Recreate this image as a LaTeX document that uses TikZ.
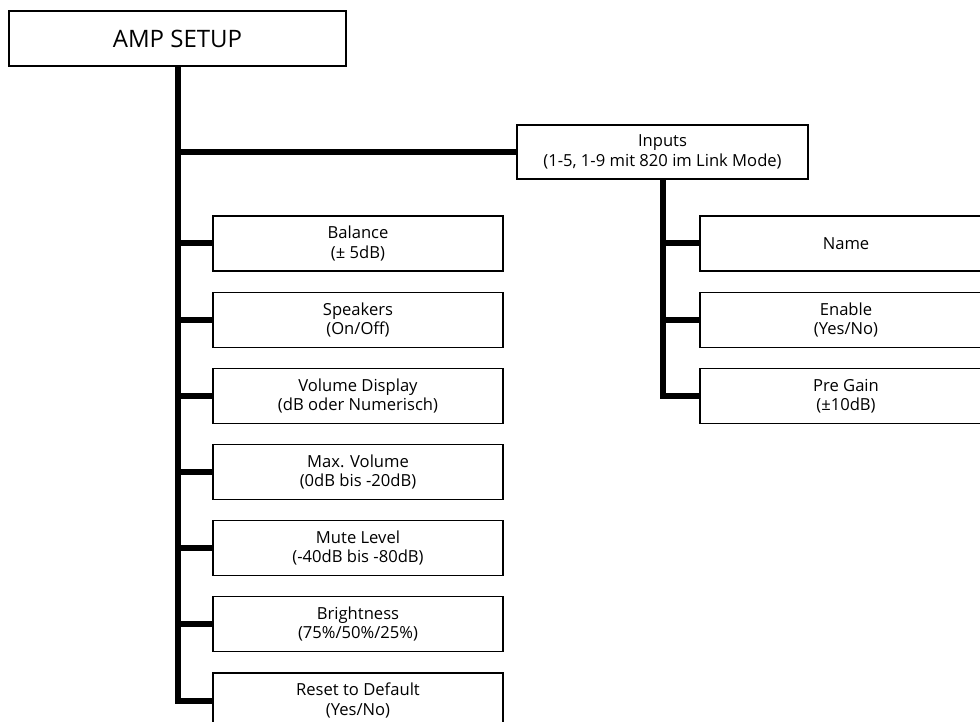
\documentclass[tikz,border=0pt]{standalone}
\usepackage{fontspec}
\setmainfont{Open Sans}
\begin{document}
\begin{tikzpicture}[x=1pt,y=-1pt,
  box/.style={draw=black,line width=1.4pt,fill=white,minimum width=290pt,minimum height=55pt,
    inner sep=0pt,align=center,font=\fontsize{16.6}{19.5}\selectfont},
  topbox/.style={box,minimum width=337pt,minimum height=55pt,font=\fontsize{24}{28}\selectfont},
  conn/.style={line width=6pt,draw=black}]
\clip (0,0) rectangle (980,722);
\fill[white] (0,0) rectangle (980,722);
% top
\node[topbox] (amp) at (177.5,38.5) {AMP SETUP};
\node[box,minimum width=291pt,minimum height=54pt] (inputs) at (662.5,152) {Inputs\\(1-5, 1-9 mit 820 im Link Mode)};
% left column
\node[box] (bal)    at (358,243.5) {Balance\\(\textpm{} 5dB)};
\node[box] (spk)    at (358,320)   {Speakers\\(On/Off)};
\node[box] (vol)    at (358,396)   {Volume Display\\(dB oder Numerisch)};
\node[box] (maxv)   at (358,472)   {Max. Volume\\(0dB bis -20dB)};
\node[box] (mute)   at (358,548)   {Mute Level\\(-40dB bis -80dB)};
\node[box] (bright) at (358,624)   {Brightness\\(75\%/50\%/25\%)};
\node[box] (reset)  at (358,700.5) {Reset to Default\\(Yes/No)};
% right column
\node[box,minimum width=292pt] (name)    at (846,243.5) {Name};
\node[box,minimum width=292pt] (enable)  at (846,320)   {Enable\\(Yes/No)};
\node[box,minimum width=292pt] (pregain) at (846,396)   {Pre Gain\\(\textpm10dB)};
% connectors
\draw[conn] (amp.south) |- (reset.west);
\foreach \n in {inputs,bal,spk,vol,maxv,mute,bright}
  \draw[conn] (amp.south |- \n.west) -- (\n.west);
\draw[conn] (inputs.south) |- (pregain.west);
\foreach \n in {name,enable}
  \draw[conn] (inputs.south |- \n.west) -- (\n.west);
\end{tikzpicture}
\end{document}
